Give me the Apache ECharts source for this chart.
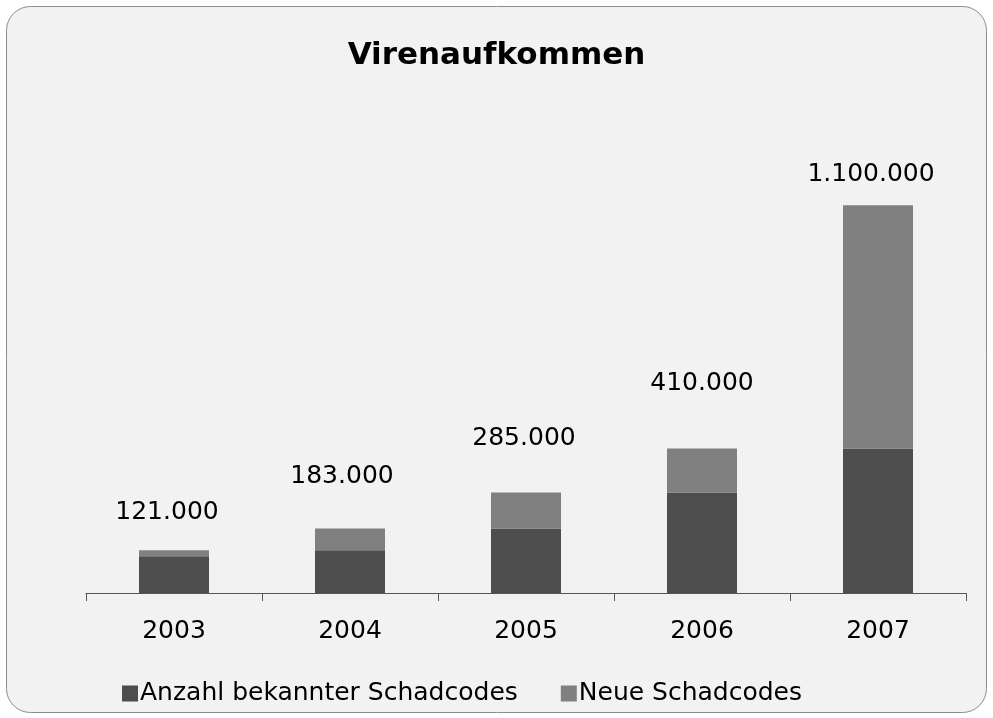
<!DOCTYPE html>
<html>
<head>
<meta charset="utf-8">
<script src="https://cdn.jsdelivr.net/npm/echarts@6/dist/echarts.min.js"></script>
<style>
  html, body { margin: 0; padding: 0; background: #ffffff; }
  #chart { width: 993px; height: 718px; }
</style>
</head>
<body>
<div id="chart"></div>
<script>
var years = ['2003', '2004', '2005', '2006', '2007'];
var bekannt = [104000, 121000, 183000, 285000, 410000];
var neu = [17000, 62000, 102000, 125000, 690000];
var summen = [121000, 183000, 285000, 410000, 1100000];

// label nudges (text boxes in the original sit at uneven heights)
var labelShift = [[-7, -20], [-8, -34], [-2, -37], [0, -47], [-7, -13]];

function fmt(v) {
    return String(v).replace(/\B(?=(\d{3})+(?!\d))/g, '.');
}

var chart = echarts.init(document.getElementById('chart'));

chart.setOption({
    backgroundColor: '#ffffff',
    textStyle: { fontFamily: 'DejaVu Sans' },
    graphic: [{
        type: 'rect',
        z: -10,
        shape: { x: 6.5, y: 6.5, width: 980, height: 706, r: 24 },
        style: { fill: '#f2f2f2', stroke: '#8c8c8c', lineWidth: 1 }
    }],
    title: {
        text: 'Virenaufkommen',
        left: 'center',
        top: 35,
        textStyle: { fontFamily: 'DejaVu Sans', fontWeight: 'bold', fontSize: 31, color: '#000' }
    },
    legend: {
        left: 117,
        top: 676,
        itemWidth: 16,
        itemHeight: 16,
        itemGap: 43,
        icon: 'rect',
        textStyle: { fontFamily: 'DejaVu Sans', fontSize: 25, color: '#000', padding: [0, 0, 0, -3] },
        data: ['Anzahl bekannter Schadcodes', 'Neue Schadcodes']
    },
    grid: { left: 86, right: 27, top: 170, bottom: 125 },
    xAxis: {
        type: 'category',
        data: years,
        axisLine: { lineStyle: { color: '#555555', width: 1 } },
        axisTick: { show: true, length: 8, lineStyle: { color: '#555555' } },
        axisLabel: { margin: 26, fontSize: 25, color: '#000', fontFamily: 'DejaVu Sans' }
    },
    yAxis: {
        type: 'value',
        min: 0,
        max: 1200000,
        show: false,
        splitLine: { show: false }
    },
    series: [
        {
            name: 'Anzahl bekannter Schadcodes',
            type: 'bar',
            stack: 'v',
            barWidth: 70,
            itemStyle: { color: '#4d4d4d' },
            data: bekannt
        },
        {
            name: 'Neue Schadcodes',
            type: 'bar',
            stack: 'v',
            barWidth: 70,
            itemStyle: { color: '#808080' },
            data: neu.map(function (v, i) {
                return {
                    value: v,
                    label: {
                        show: true,
                        position: 'top',
                        offset: labelShift[i],
                        formatter: fmt(summen[i]),
                        fontSize: 25,
                        color: '#000',
                        fontFamily: 'DejaVu Sans'
                    }
                };
            })
        }
    ]
});
</script>
</body>
</html>
